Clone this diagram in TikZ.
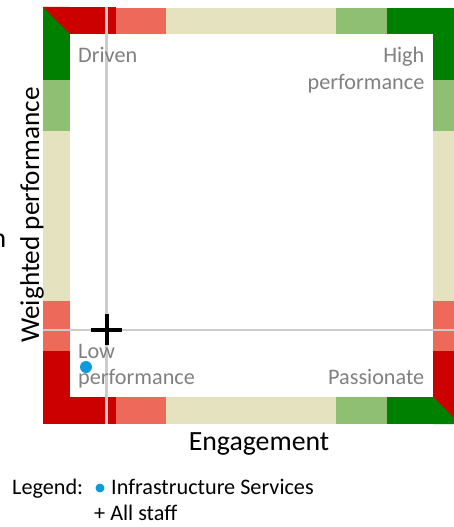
\documentclass[tikz,border=0pt]{standalone}
\usepackage{fontspec}
\setmainfont{Carlito}
\usepackage{xcolor}
\definecolor{bandred}{HTML}{CC0000}
\definecolor{bandsalmon}{HTML}{ED6A5A}
\definecolor{bandbeige}{HTML}{E5E2C0}
\definecolor{bandlime}{HTML}{8FBF73}
\definecolor{bandgreen}{HTML}{008000}
\definecolor{dotblue}{HTML}{0C9BDC}
\definecolor{guidegrey}{HTML}{CCCCCC}
\tikzset{
  quadlabel/.style={text=gray, font=\fontsize{22.2}{26}\selectfont, inner sep=0pt, anchor=base west},
  quadright/.style={quadlabel, anchor=base east},
  axislabel/.style={font=\fontsize{27.8}{30}\selectfont, inner sep=0pt, anchor=base},
  legendtext/.style={font=\fontsize{22.2}{26}\selectfont, inner sep=0pt, anchor=base west},
}
\begin{document}
\begin{tikzpicture}[x=1pt,y=-1pt]
        \useasboundingbox (0,0) rectangle (454,527);

        % top and bottom bands
        \foreach \yone/\ytwo in {8/34,397/424} {
            \foreach \xone/\xtwo/\col in {116/166/bandsalmon,166/336/bandbeige,336/387/bandlime,387/454/bandgreen}
                \fill[\col] (\xone,\yone) rectangle (\xtwo,\ytwo);
        }
        \fill[bandred] (43,7) rectangle (116,34);
        \fill[bandred] (43,397) rectangle (116,424);

        % left and right bands
        \foreach \xone/\xtwo in {43/70,433/454} {
            \foreach \yone/\ytwo/\col in {8/80/bandgreen,80/131/bandlime,131/301/bandbeige,301/351/bandsalmon,351/424/bandred}
                \fill[\col] (\xone,\yone) rectangle (\xtwo,\ytwo);
        }
        \fill[bandred] (43,7) -- (70,34) -- (70,7) -- cycle;
        \fill[bandgreen] (433,397) -- (454,418) -- (454,424) -- (433,424) -- cycle;

        % guides
        \coordinate (vtop) at (106.7,7);
        \coordinate (vbot) at (106.7,424);
        \coordinate (hleft) at (43,330);
        \coordinate (hright) at (454,330);
        \draw[guidegrey, line width=3pt] (vtop) -- (vbot);
        \draw[guidegrey, line width=1.6pt] (hleft) -- (hright);

        % quadrants
        \node[quadlabel] (driven) at (78,63) {Driven};
        \node[quadright] (high) at (424.5,63) {High};
        \node[quadright] (highb) at (424.5,89) {performance};
        \node[quadlabel] (low) at (78,358) {Low};
        \node[quadlabel] (lowb) at (78,384) {performance};
        \node[quadright] (passionate) at (424.5,384) {Passionate};

        % marks
        \node[circle, fill=dotblue, inner sep=0pt, minimum size=12pt] (unit) at (86,367) {};
        \coordinate (crossl) at (91,330);
        \coordinate (crossr) at (122,330);
        \coordinate (crosst) at (106.7,314);
        \coordinate (crossb) at (106.7,345);
        \draw[black, line width=4.4pt] (crossl) -- (crossr);
        \draw[black, line width=4.4pt] (crosst) -- (crossb);

        % axes
        \node[axislabel] (xaxis) at (259,450) {Engagement};
        \node[axislabel, rotate=90, font=\fontsize{27.2}{30}\selectfont] (yaxis) at (39,215) {Weighted performance};
        \node[axislabel] (cut) at (-1,247) {n};

        % legend
        \node[legendtext] (legend) at (12,494) {Legend:};
        \node[circle, fill=dotblue, inner sep=0pt, minimum size=9pt] (legdot) at (100,488) {};
        \node[legendtext] (legunit) at (111,494) {Infrastructure Services};
        \node[legendtext] (legall) at (94,520) {+ All staff};
    \end{tikzpicture}
\end{document}
